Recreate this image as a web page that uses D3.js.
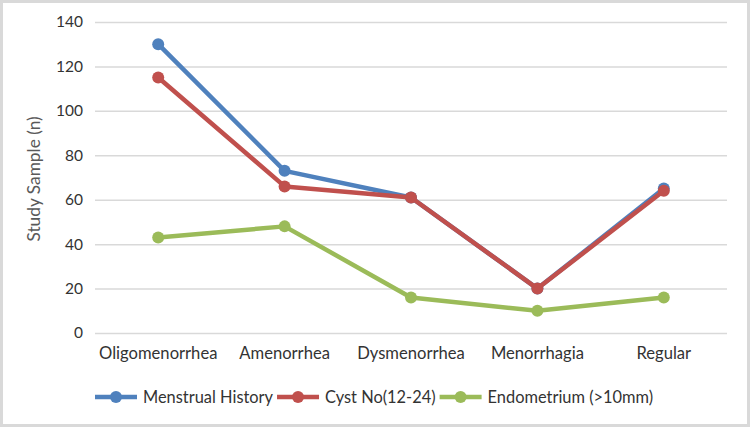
<!DOCTYPE html>
<html>
<head>
<meta charset="utf-8">
<script src="https://cdn.jsdelivr.net/npm/d3@7"></script>
<style>
  html, body { margin: 0; padding: 0; background: #fff; }
  #chart { width: 750px; height: 427px; }
  text { font-family: Lato, "Open Sans", sans-serif; }
</style>
</head>
<body>
<div id="chart"></div>
<script>
const categories = ["Oligomenorrhea", "Amenorrhea", "Dysmenorrhea", "Menorrhagia", "Regular"];
const menstrualHistory = [130, 73, 61, 20, 65];
const cystNo = [115, 66, 61, 20, 64];
const endometrium = [43, 48, 16, 10, 16];
const yTicks = [0, 20, 40, 60, 80, 100, 120, 140];

const series = [
    { name: "Menstrual History", values: menstrualHistory, color: "#4F81BD" },
    { name: "Cyst No(12-24)", values: cystNo, color: "#C0504D" },
    { name: "Endometrium (>10mm)", values: endometrium, color: "#9BBB59" }
];

const W = 750, H = 427;
const margin = { top: 22, right: 23, bottom: 94, left: 95 };
const width = W - margin.left - margin.right;
const height = H - margin.top - margin.bottom;

const root = d3.select("#chart").append("svg")
    .attr("width", W)
    .attr("height", H);

// outer frame
root.append("rect")
    .attr("x", 1.5).attr("y", 1.5)
    .attr("width", W - 3).attr("height", H - 3)
    .attr("fill", "#fff")
    .attr("stroke", "#d9d9d9")
    .attr("stroke-width", 3);

const svg = root.append("g")
    .attr("transform", `translate(${margin.left},${margin.top})`);

const x = d3.scaleBand()
    .domain(categories)
    .range([0, width])
    .padding(0);

const y = d3.scaleLinear()
    .domain([0, 140])
    .range([height, 0]);

// gridlines + y labels
svg.append("g")
    .call(d3.axisLeft(y).tickValues(yTicks).tickSize(-width).tickPadding(12))
    .call(g => g.select(".domain").remove())
    .call(g => g.selectAll(".tick line").attr("stroke", "#d9d9d9").attr("stroke-width", 1.5))
    .call(g => g.selectAll(".tick text")
        .attr("fill", "#333")
        .style("font-size", "15.5px"));

// x labels
svg.append("g")
    .attr("transform", `translate(0,${height})`)
    .call(d3.axisBottom(x).tickSize(0).tickPadding(14))
    .call(g => g.select(".domain").remove())
    .call(g => g.selectAll(".tick text")
        .attr("fill", "#333")
        .style("font-size", "16.6px"));

// y axis title
svg.append("text")
    .attr("transform", `translate(-55,${157}) rotate(-90)`)
    .attr("text-anchor", "middle")
    .attr("fill", "#595959")
    .style("font-size", "17.3px")
    .text("Study Sample (n)");

const cx = d => x(d) + x.bandwidth() / 2;
const line = d3.line()
    .x((d, i) => cx(categories[i]))
    .y(d => y(d));

series.forEach(s => {
    svg.append("path")
        .datum(s.values)
        .attr("fill", "none")
        .attr("stroke", s.color)
        .attr("stroke-width", 4.5)
        .attr("stroke-linejoin", "round")
        .attr("d", line);

    svg.selectAll(null)
        .data(s.values)
        .enter()
        .append("circle")
        .attr("cx", (d, i) => cx(categories[i]))
        .attr("cy", d => y(d))
        .attr("r", 6)
        .attr("fill", s.color);
});

// legend
const legend = root.append("g").attr("transform", "translate(95,397)");
let lx = 0;
series.forEach(s => {
    const g = legend.append("g").attr("transform", `translate(${lx},0)`);
    g.append("line")
        .attr("x1", 0).attr("x2", 42)
        .attr("stroke", s.color).attr("stroke-width", 4.5);
    g.append("circle")
        .attr("cx", 21).attr("r", 6).attr("fill", s.color);
    const t = g.append("text")
        .attr("x", 48)
        .attr("dy", "0.35em")
        .attr("fill", "#333")
        .style("font-size", "16.4px")
        .text(s.name);
    lx += 48 + t.node().getComputedTextLength() + 4;
});
</script>
</body>
</html>
